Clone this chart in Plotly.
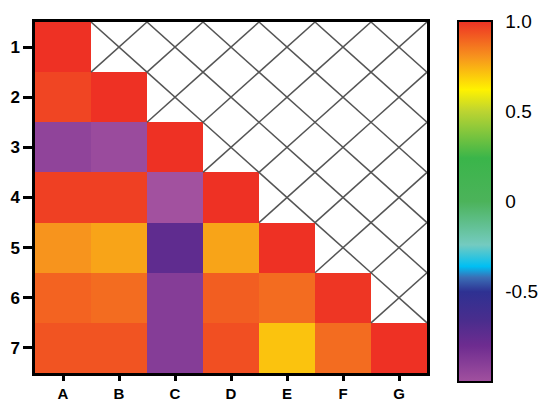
import plotly.graph_objects as go

rows = ["1", "2", "3", "4", "5", "6", "7"]
cols = ["A", "B", "C", "D", "E", "F", "G"]

row1 = [1.00]
row2 = [0.96, 1.00]
row3 = [-0.93, -0.97, 1.00]
row4 = [0.97, 0.97, -1.00, 1.00]
row5 = [0.80, 0.77, -0.74, 0.77, 1.00]
row6 = [0.90, 0.88, -0.89, 0.91, 0.88, 0.99]
row7 = [0.93, 0.93, -0.89, 0.94, 0.71, 0.88, 1.00]

cb_ticks = [-0.5, 0, 0.5, 1.0]
cb_ticktext = ["-0.5", "0", "0.5", "1.0"]

lower = [row1, row2, row3, row4, row5, row6, row7]
n = len(rows)
z = [[(r[j] if j < len(r) else None) for j in range(n)] for r in lower]

colorscale = [
    [0.00, "#A2519F"],
    [0.10, "#6E2C90"],
    [0.17, "#4A2D8D"],
    [0.25, "#2E3192"],
    [0.29, "#3A6FB6"],
    [0.32, "#00BFF3"],
    [0.38, "#74CBC0"],
    [0.50, "#4CB35A"],
    [0.62, "#3AB54A"],
    [0.75, "#BDD431"],
    [0.81, "#FFF200"],
    [0.90, "#F7941D"],
    [1.00, "#EE3124"],
]

L, R, T, B = 35, 427, 22, 373
W, H = R - L, B - T
CB_L, CB_TH, CB_TOP, CB_LEN = 458, 34, 21, 361

fig = go.Figure()
fig.add_trace(go.Heatmap(
    z=z, x=list(range(n)), y=list(range(n)),
    zmin=-1, zmax=1, colorscale=colorscale,
    hoverongaps=False,
    colorbar=dict(
        x=(CB_L - L) / W, xanchor="left",
        y=1 - (CB_TOP - T) / H, yanchor="top",
        lenmode="pixels", len=CB_LEN,
        thicknessmode="pixels", thickness=CB_TH,
        xpad=0, ypad=0,
        outlinecolor="black", outlinewidth=2,
        tickvals=cb_ticks, ticktext=cb_ticktext,
        ticks="outside", ticklen=9, tickwidth=1, tickcolor="rgba(0,0,0,0)",
        tickfont=dict(family="Liberation Sans, Arial", size=19, color="black"),
    ),
))

# hatch (X) in upper triangle
hx, hy = [], []
for i in range(n):
    for j in range(n):
        if j > i:
            hx += [j - 0.5, j + 0.5, None, j - 0.5, j + 0.5, None]
            hy += [i - 0.5, i + 0.5, None, i + 0.5, i - 0.5, None]
fig.add_trace(go.Scatter(x=hx, y=hy, mode="lines",
                         line=dict(color="#555555", width=1.5),
                         hoverinfo="skip", showlegend=False))

# inside tick marks on both edges of the colorbar
for v in cb_ticks:
    if v >= 1.0:
        continue
    ypx = CB_TOP + (1 - (v + 1) / 2) * CB_LEN
    yp = 1 - (ypx - T) / H
    for xa, xb in [(CB_L, CB_L + 6), (CB_L + CB_TH - 6, CB_L + CB_TH)]:
        fig.add_shape(type="line", xref="paper", yref="paper",
                      x0=(xa - L) / W, x1=(xb - L) / W, y0=yp, y1=yp,
                      line=dict(color="black", width=2))

common = dict(
    showline=True, linecolor="black", linewidth=2.5, mirror=True,
    ticks="outside", tickwidth=2.5, tickcolor="black",
    showgrid=False, zeroline=False, automargin=False,
)
fig.update_xaxes(tickvals=list(range(n)), ticktext=cols, range=[-0.5, n - 0.5],
                 ticklen=5,
                 tickfont=dict(family="Liberation Sans, Arial", size=15, color="black", weight="bold"),
                 **common)
fig.update_yaxes(tickvals=list(range(n)), ticktext=rows, range=[n - 0.5, -0.5],
                 ticklen=9,
                 tickfont=dict(family="Liberation Sans, Arial", size=17, color="black", weight="bold"),
                 **common)
fig.update_layout(
    width=541, height=401,
    margin=dict(l=L, r=541 - R, t=T, b=401 - B, autoexpand=False),
    plot_bgcolor="white", paper_bgcolor="white",
    font=dict(family="Liberation Sans, Arial", color="black"),
    showlegend=False,
)

fig.write_html("out.html")
